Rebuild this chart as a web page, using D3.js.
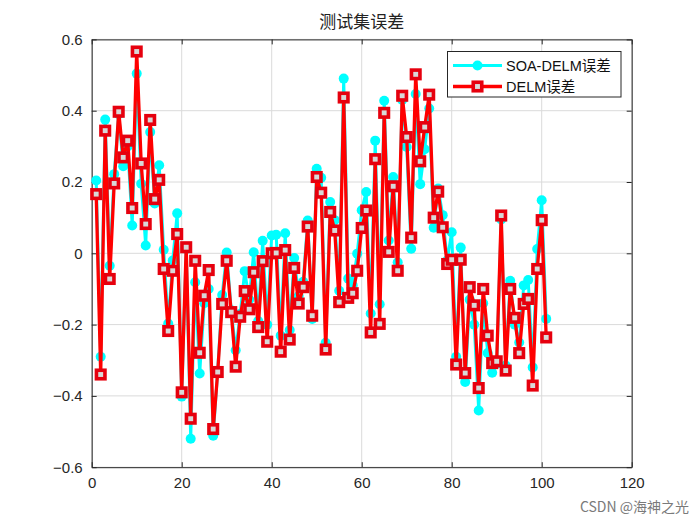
<!DOCTYPE html>
<html><head><meta charset="utf-8">
<script src="https://cdn.jsdelivr.net/npm/d3@7/dist/d3.min.js"></script>
<style>body{margin:0;background:#fff;}svg{display:block;}</style>
</head><body><svg id="c" width="700" height="525"></svg>
<script>
const titleText = "测试集误差";
const seriesNames = ["SOA-DELM误差", "DELM误差"];
const xTicks = [0, 20, 40, 60, 80, 100, 120];
const yTicks = [-0.6, -0.4, -0.2, 0, 0.2, 0.4, 0.6];
const soaDelm = [0.204,-0.290,0.375,-0.035,0.222,0.39,0.244,0.30,0.078,0.504,
0.195,0.022,0.340,0.140,0.247,0.010,-0.197,-0.02,0.112,-0.402,
0.012,-0.520,-0.081,-0.337,-0.14,-0.10,-0.512,-0.33,-0.117,0.002,
-0.16,-0.272,-0.17,-0.05,-0.13,0.003,-0.19,0.035,-0.20,0.050,
0.052,-0.231,0.056,-0.215,-0.013,-0.12,-0.08,0.092,-0.184,0.237,
0.212,-0.251,0.144,0.093,-0.105,0.490,-0.071,-0.09,-0.001,0.121,
0.172,-0.169,0.316,-0.143,0.428,0.036,0.214,-0.025,0.43,0.298,
0.013,0.447,0.194,0.292,0.406,0.072,0.182,0.107,-0.02,0.059,
-0.29,0.016,-0.361,-0.13,-0.2,-0.441,-0.14,-0.28,-0.335,-0.31,
0.095,-0.315,-0.077,-0.2,-0.25,-0.09,-0.075,-0.32,0.012,0.149,
-0.184];
const delm = [0.166,-0.340,0.344,-0.072,0.196,0.397,0.269,0.316,0.127,0.566,
0.252,0.082,0.374,0.152,0.206,-0.044,-0.218,-0.049,0.054,-0.390,
0.017,-0.464,-0.021,-0.279,-0.119,-0.047,-0.493,-0.333,-0.142,-0.021,
-0.165,-0.318,-0.178,-0.106,-0.157,-0.053,-0.207,-0.022,-0.248,0.000,
0.001,-0.276,0.009,-0.242,-0.041,-0.141,-0.095,0.075,-0.175,0.214,
0.170,-0.270,0.116,0.064,-0.137,0.437,-0.125,-0.112,-0.049,0.071,
0.120,-0.222,0.264,-0.198,0.394,0.004,0.188,-0.049,0.442,0.326,
0.044,0.502,0.258,0.354,0.445,0.100,0.173,0.073,-0.030,-0.018,
-0.312,-0.018,-0.336,-0.095,-0.146,-0.378,-0.100,-0.231,-0.308,-0.303,
0.106,-0.329,-0.100,-0.181,-0.280,-0.142,-0.128,-0.371,-0.044,0.093,
-0.236];
const watermark = "CSDN @海神之光";

const svg = d3.select("#c");
const L = 91.7, R = 631.7, T = 39.4, B = 467.2;
const x = d3.scaleLinear().domain([0, 120]).range([L, R]);
const y = d3.scaleLinear().domain([-0.6, 0.6]).range([B, T]);
const font = "'Liberation Sans', Arial, sans-serif";
const cjk = "'Noto Sans CJK SC', sans-serif";
const axisColor = "#262626";

// grid
svg.append("g").selectAll("line.gx").data(xTicks).join("line")
  .attr("x1", d => x(d)).attr("x2", d => x(d)).attr("y1", T).attr("y2", B)
  .attr("stroke", "#dadada").attr("stroke-width", 1);
svg.append("g").selectAll("line.gy").data(yTicks).join("line")
  .attr("x1", L).attr("x2", R).attr("y1", d => y(d)).attr("y2", d => y(d))
  .attr("stroke", "#dadada").attr("stroke-width", 1);

// axes
const xAxisB = d3.axisBottom(x).tickValues(xTicks).tickSizeInner(-5).tickSizeOuter(0).tickPadding(10).tickFormat(d3.format("d"));
const xAxisT = d3.axisTop(x).tickValues(xTicks).tickSizeInner(-5).tickSizeOuter(0).tickFormat("");
const yAxisL = d3.axisLeft(y).tickValues(yTicks).tickSizeInner(-5).tickSizeOuter(0).tickPadding(9).tickFormat(d => d === 0 ? "0" : d3.format(".1f")(d));
const yAxisR = d3.axisRight(y).tickValues(yTicks).tickSizeInner(-5).tickSizeOuter(0).tickFormat("");
function styleAxis(g) {
  g.select(".domain").attr("stroke", axisColor).attr("stroke-width", 1);
  g.selectAll(".tick line").attr("stroke", axisColor);
  g.selectAll(".tick text").attr("fill", axisColor).style("font-family", font).style("font-size", "15px");
}
svg.append("g").attr("transform", `translate(0,${B})`).call(xAxisB).call(styleAxis);
svg.append("g").attr("transform", `translate(0,${T})`).call(xAxisT).call(styleAxis);
svg.append("g").attr("transform", `translate(${L},0)`).call(yAxisL).call(styleAxis);
svg.append("g").attr("transform", `translate(${R},0)`).call(yAxisR).call(styleAxis);

const cyan = "#00ffff", red = "#ff0000";
const line = d3.line().x((d, i) => x(i + 1)).y(d => y(d));

// cyan series
svg.append("path").datum(soaDelm).attr("d", line).attr("fill", "none")
  .attr("stroke", cyan).attr("stroke-width", 3).attr("stroke-linejoin", "round");
svg.append("g").selectAll("circle").data(soaDelm).join("circle")
  .attr("cx", (d, i) => x(i + 1)).attr("cy", d => y(d)).attr("r", 5).attr("fill", cyan);

// red series
svg.append("path").datum(delm).attr("d", line).attr("fill", "none")
  .attr("stroke", red).attr("stroke-width", 3.3).attr("stroke-linejoin", "miter");
const sq = 8.5;
svg.append("g").selectAll("rect").data(delm).join("rect")
  .attr("x", (d, i) => x(i + 1) - sq / 2).attr("y", d => y(d) - sq / 2)
  .attr("width", sq).attr("height", sq)
  .attr("fill", "#d8d8d8").attr("stroke", "#e6000e").attr("stroke-width", 3.6);

// title
svg.append("text").attr("x", (L + R) / 2).attr("y", 28).attr("text-anchor", "middle")
  .style("font-family", cjk).style("font-size", "17px").attr("fill", "#222").text(titleText);

// legend
const lg = svg.append("g");
lg.append("rect").attr("x", 447.5).attr("y", 51.5).attr("width", 173.5).attr("height", 45.5)
  .attr("fill", "#fff").attr("stroke", axisColor).attr("stroke-width", 1);
const rows = [65.5, 86.5];
lg.append("line").attr("x1", 453).attr("x2", 502).attr("y1", rows[0]).attr("y2", rows[0]).attr("stroke", cyan).attr("stroke-width", 3);
lg.append("circle").attr("cx", 477.5).attr("cy", rows[0]).attr("r", 5).attr("fill", cyan);
lg.append("line").attr("x1", 453).attr("x2", 502).attr("y1", rows[1]).attr("y2", rows[1]).attr("stroke", red).attr("stroke-width", 3.3);
lg.append("rect").attr("x", 477.5 - sq / 2).attr("y", rows[1] - sq / 2).attr("width", sq).attr("height", sq)
  .attr("fill", "#d8d8d8").attr("stroke", "#e6000e").attr("stroke-width", 3.6);
seriesNames.forEach((n, i) => {
  lg.append("text").attr("x", 506).attr("y", rows[i] + 5).style("font-family", font + ", " + cjk)
    .style("font-size", "14.5px").attr("fill", "#111").text(n);
});

// watermark
svg.append("text").attr("x", 689).attr("y", 512).attr("text-anchor", "end")
  .style("font-family", cjk).style("font-size", "14px").attr("fill", "#7a7a7a").text(watermark);
</script></body></html>
